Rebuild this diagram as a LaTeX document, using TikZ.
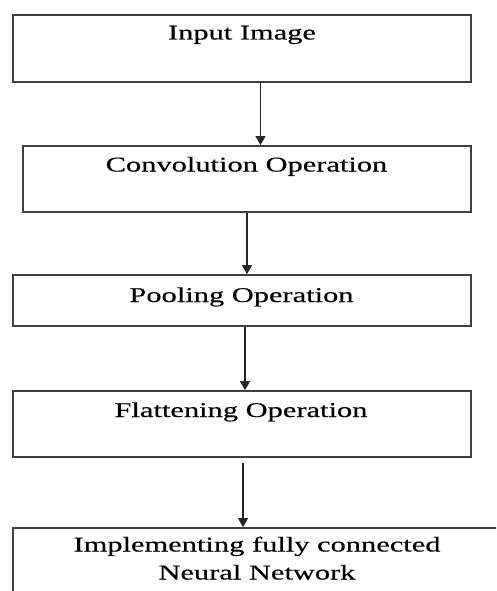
\documentclass[tikz,border=0pt]{standalone}
\usepackage{fontspec}
\setmainfont{Liberation Serif}
\newfontfamily\boxfont[FakeStretch=1.45,FakeBold=0.4]{Liberation Serif}
\usetikzlibrary{arrows.meta}
\tikzset{
  stagebox/.style={draw=black!75, line width=1.8pt, rectangle, inner sep=0pt},
  lbl/.style={font=\boxfont\fontsize{21}{28}\selectfont, text=black, inner sep=0pt},
  arr/.style={draw=black!85, line width=1.4pt, -{Triangle[length=9pt,width=10pt]}},
}
\begin{document}
\begin{tikzpicture}[x=1pt,y=-1pt]
\useasboundingbox (0,0) rectangle (496,591);
\begin{scope}
\clip (0,0) rectangle (496,591);
\node[stagebox, minimum width=458pt, minimum height=67pt] (b1) at (242,48.5) {};
\node[stagebox, minimum width=448pt, minimum height=66pt] (b2) at (247,179) {};
\node[stagebox, minimum width=458pt, minimum height=51pt] (b3) at (242,300.5) {};
\node[stagebox, minimum width=458pt, minimum height=66pt] (b4) at (242,424) {};
\node[stagebox, minimum width=490pt, minimum height=92pt] (b5) at (258,574) {};

\node[lbl, anchor=base] (t1) at (242,39.5) {Input Image};
\node[lbl, anchor=base] (t2) at (246.5,171.5) {Convolution Operation};
\node[lbl, anchor=base] (t3) at (241.5,302) {Pooling Operation};
\node[lbl, anchor=base] (t4) at (241,417) {Flattening Operation};
\node[lbl, anchor=base, align=center] (t5) at (257,579.5) {Implementing fully connected\\Neural Network};

\draw[arr] ([xshift=18.5pt]b1.south) -- ([xshift=18.5pt]b1.south |- b2.north);
\draw[arr] ([xshift=5pt]b2.south -| b3.north) -- ([xshift=5pt]b3.north);
\draw[arr] ([xshift=3pt]b3.south) -- ([xshift=3pt]b3.south |- b4.north);
\draw[arr, shorten <=5pt] ([xshift=1pt]b4.south) -- ([xshift=1pt]b4.south |- b5.north);
\end{scope}
\end{tikzpicture}
\end{document}
